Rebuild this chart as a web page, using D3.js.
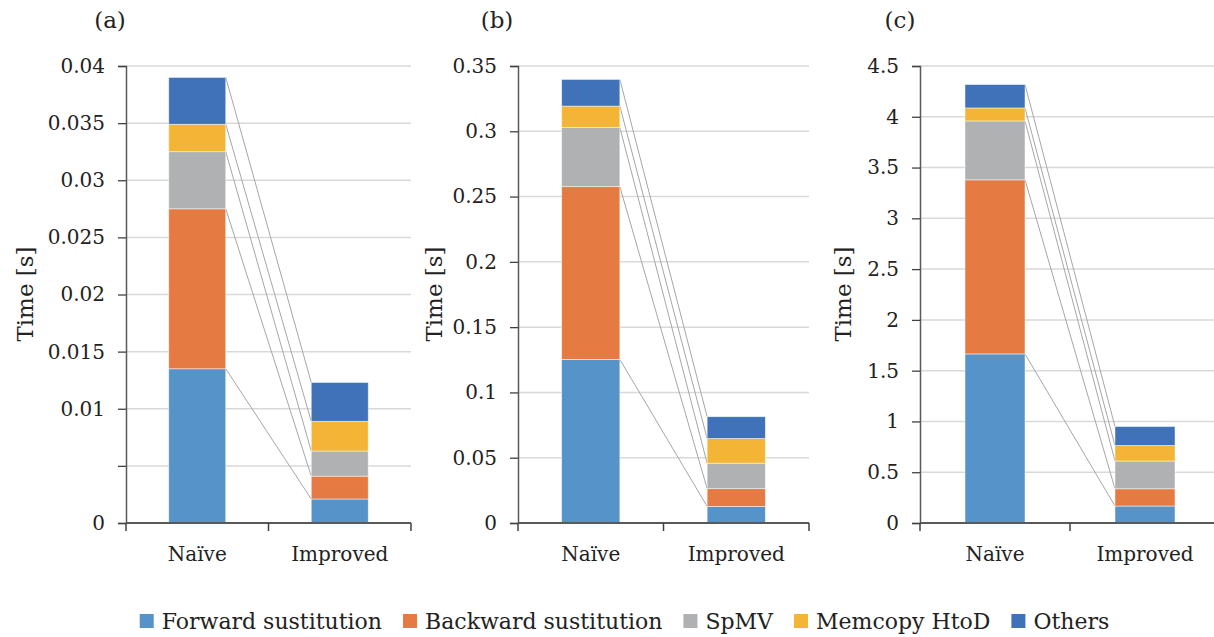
<!DOCTYPE html>
<html>
<head>
<meta charset="utf-8">
<script src="https://cdn.jsdelivr.net/npm/d3@7"></script>
<style>
  html, body { margin: 0; padding: 0; background: #fff; }
  svg { display: block; font-family: "DejaVu Serif", "Liberation Serif", serif; }
</style>
</head>
<body>
<svg id="chart" width="1214" height="637"></svg>
<script>
// Bar categories and stacked components (bottom to top)
const categories = ["Naïve", "Improved"];
const seriesNames = ["Forward sustitution", "Backward sustitution", "SpMV", "Memcopy HtoD", "Others"];
const seriesColors = ["#5693C8", "#E57A43", "#B0B1B3", "#F4B537", "#3F72B8"];

// Times in seconds, one value per component (same order as seriesNames)
const naiveA    = [0.0135, 0.0140, 0.0050, 0.0024, 0.0041];
const improvedA = [0.0021, 0.0020, 0.0022, 0.0026, 0.0034];
const naiveB    = [0.1253, 0.1323, 0.0453, 0.0164, 0.0204];
const improvedB = [0.0127, 0.0136, 0.0195, 0.0189, 0.0167];
const naiveC    = [1.665, 1.714, 0.580, 0.128, 0.230];
const improvedC = [0.167, 0.170, 0.273, 0.153, 0.187];

// Y-axis ticks and their labels
const tickValuesA = [0, 0.005, 0.01, 0.015, 0.02, 0.025, 0.03, 0.035, 0.04];
const tickLabelsA = ["0", "", "0.01", "0.015", "0.02", "0.025", "0.03", "0.035", "0.04"];
const tickValuesB = [0, 0.05, 0.1, 0.15, 0.2, 0.25, 0.3, 0.35];
const tickLabelsB = ["0", "0.05", "0.1", "0.15", "0.2", "0.25", "0.3", "0.35"];
const tickValuesC = [0, 0.5, 1, 1.5, 2, 2.5, 3, 3.5, 4, 4.5];
const tickLabelsC = ["0", "0.5", "1", "1.5", "2", "2.5", "3", "3.5", "4", "4.5"];

const panelTitles = ["(a)", "(b)", "(c)"];
const yTitle = "Time [s]";

const svg = d3.select("#chart");

const panels = [
  { title: panelTitles[0], naive: naiveA, improved: improvedA, ticks: tickValuesA, labels: tickLabelsA,
    max: 0.04, x0: 126, x1: 411, titleX: 110, yTitleX: 25 },
  { title: panelTitles[1], naive: naiveB, improved: improvedB, ticks: tickValuesB, labels: tickLabelsB,
    max: 0.35, x0: 518, x1: 809, titleX: 497, yTitleX: 434 },
  { title: panelTitles[2], naive: naiveC, improved: improvedC, ticks: tickValuesC, labels: tickLabelsC,
    max: 4.5, x0: 920, x1: 1220, titleX: 900, yTitleX: 843 }
];

const yBottom = 523, yTop = 66;

panels.forEach(p => {
  const g = svg.append("g");
  const y = d3.scaleLinear().domain([0, p.max]).range([yBottom, yTop]);
  const x = d3.scaleBand().domain(categories).range([p.x0, p.x1])
    .paddingInner(0.6).paddingOuter(0.3);
  const xEdges = d3.scaleBand().domain(categories).range([p.x0, p.x1]).padding(0);

  // gridlines
  g.append("g").selectAll("line").data(p.ticks.filter(t => t > 0)).join("line")
    .attr("x1", p.x0).attr("x2", p.x1)
    .attr("y1", d => y(d)).attr("y2", d => y(d))
    .attr("stroke", "#D9D9D9").attr("stroke-width", 1.5);

  // y axis
  const yAxis = d3.axisLeft(y).tickValues(p.ticks).tickSize(8).tickPadding(13)
    .tickFormat((d, i) => p.labels[i]);
  const ya = g.append("g").attr("transform", `translate(${p.x0},0)`).call(yAxis);
  ya.select(".domain").attr("stroke", "#595959").attr("stroke-width", 1.5);
  ya.selectAll(".tick line").attr("stroke", "#404040").attr("stroke-width", 1.3);
  ya.selectAll(".tick text").attr("font-size", 20).attr("fill", "#222")
    .attr("font-family", "DejaVu Serif");

  // stacked segments
  const rows = categories.map((c, ci) => {
    const vals = ci === 0 ? p.naive : p.improved;
    let acc = 0;
    return vals.map((v, si) => {
      const seg = { cat: c, s: si, y0: acc, y1: acc + v };
      acc += v;
      return seg;
    });
  });

  // connector lines between the tops of matching segments
  const connectors = seriesNames.map((n, si) => ({ a: rows[0][si].y1, b: rows[1][si].y1 }));
  g.append("g").selectAll("line").data(connectors).join("line")
    .attr("x1", x(categories[0]) + x.bandwidth())
    .attr("x2", x(categories[1]))
    .attr("y1", d => y(d.a)).attr("y2", d => y(d.b))
    .attr("stroke", "#A6A6A6").attr("stroke-width", 1);

  g.append("g").selectAll("rect").data(rows.flat()).join("rect")
    .attr("x", d => x(d.cat))
    .attr("width", x.bandwidth())
    .attr("y", d => y(d.y1))
    .attr("height", d => y(d.y0) - y(d.y1))
    .attr("fill", d => seriesColors[d.s])
    .attr("stroke", "#ffffff").attr("stroke-opacity", 0.6).attr("stroke-width", 0.8);

  // x axis line and category boundary ticks
  g.append("line").attr("x1", p.x0).attr("x2", p.x1).attr("y1", yBottom).attr("y2", yBottom)
    .attr("stroke", "#595959").attr("stroke-width", 1.8);
  const edges = categories.map(c => xEdges(c)).concat([p.x1]);
  g.append("g").selectAll("line").data(edges).join("line")
    .attr("x1", d => d).attr("x2", d => d)
    .attr("y1", yBottom).attr("y2", yBottom + 8)
    .attr("stroke", "#404040").attr("stroke-width", 1.5);

  // category labels
  g.append("g").selectAll("text").data(categories).join("text")
    .attr("x", d => xEdges(d) + xEdges.bandwidth() / 2)
    .attr("y", 561)
    .attr("text-anchor", "middle")
    .attr("font-size", 20).attr("fill", "#222")
    .text(d => d);

  // y title
  g.append("text")
    .attr("transform", `translate(${p.yTitleX + 8},294) rotate(-90)`)
    .attr("text-anchor", "middle")
    .attr("font-size", 23).attr("fill", "#222")
    .text(yTitle);

  // panel label
  g.append("text")
    .attr("x", p.titleX).attr("y", 28)
    .attr("text-anchor", "middle")
    .attr("font-size", 23).attr("fill", "#222")
    .text(p.title);
});

// legend
const legend = svg.append("g");
const items = legend.selectAll("g").data(seriesNames).join("g");
items.append("rect").attr("width", 14).attr("height", 14).attr("y", 614)
  .attr("fill", (d, i) => seriesColors[i]);
items.append("text").attr("x", 22).attr("y", 629)
  .attr("font-size", 22).attr("fill", "#222").text(d => d);
let cursor = 0;
const offsets = [];
items.each(function () {
  const w = d3.select(this).select("text").node().getComputedTextLength();
  offsets.push(cursor);
  cursor += 22 + w + 21;
});
const totalW = cursor - 21;
const startX = 624.5 - totalW / 2;
items.attr("transform", (d, i) => `translate(${startX + offsets[i]},0)`);
</script>
</body>
</html>
